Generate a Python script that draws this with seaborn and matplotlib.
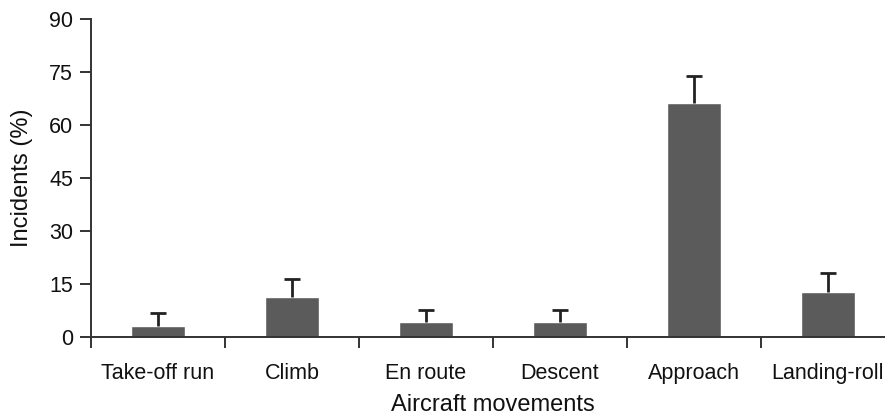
import numpy as np
import pandas as pd
import matplotlib
matplotlib.use("Agg")
import matplotlib.pyplot as plt
import seaborn as sns

# Incident share by phase of flight, with upper error bars
phases = ["Take-off run", "Climb", "En route", "Descent", "Approach", "Landing-roll"]
incidents = [3.0, 11.4, 4.3, 4.3, 66.1, 12.6]
errors = [3.9, 5.0, 3.4, 3.3, 7.8, 5.6]
y_ticks = [0, 15, 30, 45, 60, 75, 90]

sns.set_theme(style="white")
plt.rcParams["font.family"] = ["Liberation Sans", "DejaVu Sans"]

df = pd.DataFrame({"phase": phases, "pct": incidents})

fig = plt.figure(figsize=(8.85, 4.18), dpi=100)
ax = fig.add_axes([0.1028, 0.1938, 0.9085, 0.7607])

sns.barplot(data=df, x="phase", y="pct", order=phases, color="#5b5b5b",
            saturation=1, width=0.4, errorbar=None, ax=ax, zorder=2)

pos = np.arange(len(phases))
_, caps, _ = ax.errorbar(pos, incidents, yerr=[np.zeros(len(errors)), errors],
                         fmt="none", ecolor="#222222", elinewidth=2,
                         capsize=5.5, capthick=2, zorder=3)
# keep only the upper cap
caps[0].set_visible(False)

ax.set_xlim(-0.5, len(phases) - 0.5)
ax.set_ylim(0, 90)
ax.set_yticks(y_ticks)

for side in ("top", "right"):
    ax.spines[side].set_visible(False)
for side in ("left", "bottom"):
    ax.spines[side].set_color("#333333")
    ax.spines[side].set_linewidth(1.4)
ax.spines["left"].set_bounds(0, 90)

# category boundaries as outward tick marks; labels sit at bar centres
ax.set_xticks(pos)
ax.set_xticks(np.arange(-0.5, len(phases), 1.0), minor=True)
ax.tick_params(axis="x", which="major", length=0, pad=19, labelsize=15.5, labelcolor="#111111")
ax.tick_params(axis="x", which="minor", bottom=True, direction="out", length=8,
               width=1.4, color="#333333")
ax.tick_params(axis="y", which="major", left=True, direction="out", length=8,
               width=1.4, color="#333333", pad=5, labelsize=15.5, labelcolor="#111111")

ax.set_xlabel("Aircraft movements", fontsize=17, color="#111111")
ax.xaxis.label.set_va("baseline")
ax.xaxis.set_label_coords(0.5, -0.233)
ax.set_ylabel("Incidents (%)", fontsize=17, color="#111111")
ax.yaxis.set_label_coords(-0.072, 0.5)
ax.patch.set_alpha(0)

fig.savefig("out.png", dpi=100)
